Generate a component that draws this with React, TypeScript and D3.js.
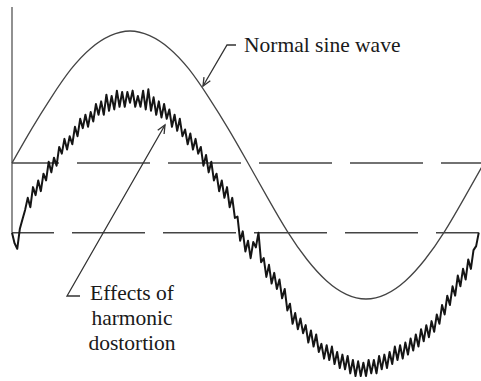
import React from "react";
import * as d3 from "d3";

// Normal sine wave, read every 15 degrees (value units: 1 = peak)
const sineAngles = [0, 15, 30, 45, 60, 75, 90, 105, 120, 135, 150, 165, 180, 195, 210, 225, 240, 255, 270, 285, 300, 315, 330, 345, 360];
const sineValues = [0, 0.255, 0.49, 0.7, 0.855, 0.95, 0.985, 0.95, 0.855, 0.7, 0.49, 0.255, 0, -0.26, -0.51, -0.72, -0.88, -0.98, -1.015, -0.98, -0.88, -0.72, -0.51, -0.26, 0];

// Distorted wave, read every 2 degrees from 0 to 356
const noisyStep = 2;
const noisyValues = [
  -0.52, -0.6, -0.64, -0.49, -0.42, -0.35,
  -0.26, -0.33, -0.18, -0.24, -0.13, -0.21, -0.08, -0.13, 0.01, -0.07,
  0.04, -0.02, 0.12, 0.07, 0.18, 0.1, 0.2, 0.14, 0.27, 0.2,
  0.33, 0.26, 0.36, 0.27, 0.38, 0.31, 0.44, 0.36, 0.46, 0.36,
  0.51, 0.39, 0.5, 0.4, 0.54, 0.42, 0.53, 0.42, 0.53, 0.45,
  0.54, 0.42, 0.5, 0.42, 0.54, 0.4, 0.55, 0.39, 0.49, 0.36,
  0.46, 0.34, 0.44, 0.33, 0.4, 0.27, 0.36, 0.24, 0.33, 0.2,
  0.25, 0.14, 0.22, 0.1, 0.18, 0.07, 0.12, -0.02, 0.06, -0.07,
  0.01, -0.13, -0.08, -0.21, -0.13, -0.26, -0.18, -0.33, -0.26, -0.41,
  -0.4, -0.58, -0.51, -0.66, -0.58, -0.71, -0.59, -0.63, -0.52, -0.74,
  -0.71, -0.85, -0.76, -0.9, -0.82, -0.94, -0.87, -1.01, -0.94, -1.1,
  -1.05, -1.2, -1.12, -1.24, -1.16, -1.27, -1.21, -1.34, -1.25, -1.37,
  -1.28, -1.41, -1.35, -1.46, -1.36, -1.47, -1.37, -1.5, -1.41, -1.53,
  -1.43, -1.54, -1.44, -1.57, -1.47, -1.59, -1.48, -1.59, -1.49, -1.59,
  -1.47, -1.57, -1.47, -1.57, -1.44, -1.54, -1.43, -1.53, -1.41, -1.5,
  -1.37, -1.47, -1.36, -1.46, -1.34, -1.43, -1.31, -1.4, -1.28, -1.37,
  -1.24, -1.33, -1.21, -1.3, -1.18, -1.26, -1.13, -1.2, -1.06, -1.13,
  -0.99, -1.06, -0.92, -0.99, -0.84, -0.92, -0.79, -0.87, -0.72, -0.79,
  -0.65, -0.62, -0.52,
];
const noisyAngles = noisyValues.map((_, i) => i * noisyStep);

// Horizontal dashed reference levels
const refLevels = [0, -0.52];
const refDashOffsets = [26, 31];
const refEnds = [360, 356];

const labelNormal = "Normal sine wave";
const labelEffects = ["Effects of", "harmonic", "dostortion"];

const W = 481;
const H = 381;

function arrowHead(tip: [number, number], from: [number, number], len = 9, spread = 0.42) {
  const a = Math.atan2(tip[1] - from[1], tip[0] - from[0]);
  const p1 = [tip[0] - len * Math.cos(a - spread), tip[1] - len * Math.sin(a - spread)];
  const p2 = [tip[0] - len * Math.cos(a + spread), tip[1] - len * Math.sin(a + spread)];
  return `M${p1[0]},${p1[1]}L${tip[0]},${tip[1]}L${p2[0]},${p2[1]}`;
}

export default function App() {
  const x = d3.scaleLinear().domain([0, 360]).range([12, 484]);
  const y = d3.scaleLinear().domain([0, -1]).range([163, 297]);

  const sineLine = d3
    .line<number>()
    .x((_, i) => x(sineAngles[i]))
    .y((d) => y(d))
    .curve(d3.curveNatural);

  const noisyLine = d3
    .line<number>()
    .x((_, i) => x(noisyAngles[i]))
    .y((d) => y(d))
    .curve(d3.curveLinear);

  const font = "Liberation Serif, Times New Roman, serif";

  // annotation leaders (pixel layout)
  const nTip: [number, number] = [203, 86];
  const nElbow: [number, number] = [227, 45];
  const nEnd: [number, number] = [236, 45];
  const eTip: [number, number] = [165, 125];
  const eElbow: [number, number] = [67, 296];
  const eEnd: [number, number] = [80, 296];

  return (
    <svg
      width={W}
      height={H}
      style={{ position: "absolute", left: 0, top: 0, background: "#fff" }}
    >
      <rect width={W} height={H} fill="#fff" />
      {/* vertical axis */}
      <line x1={x(0)} x2={x(0)} y1={7} y2={y(-0.52)} stroke="#555" strokeWidth={1.3} />
      {/* dashed reference lines */}
      {refLevels.map((v, i) => (
        <line
          key={i}
          x1={x(0)}
          x2={x(refEnds[i])}
          y1={y(v)}
          y2={y(v)}
          stroke="#444"
          strokeWidth={1.6}
          strokeDasharray="73 18"
          strokeDashoffset={refDashOffsets[i]}
        />
      ))}
      {/* normal sine */}
      <path d={sineLine(sineValues) || ""} fill="none" stroke="#444" strokeWidth={1.3} />
      {/* distorted wave */}
      <path
        d={noisyLine(noisyValues) || ""}
        fill="none"
        stroke="#151515"
        strokeWidth={2}
        strokeLinejoin="round"
      />
      {/* annotations */}
      <g stroke="#333" strokeWidth={1.3} fill="none">
        <path d={`M${nEnd[0]},${nEnd[1]}L${nElbow[0]},${nElbow[1]}L${nTip[0]},${nTip[1]}`} />
        <path d={arrowHead(nTip, nElbow)} />
        <path d={`M${eEnd[0]},${eEnd[1]}L${eElbow[0]},${eElbow[1]}L${eTip[0]},${eTip[1]}`} />
        <path d={arrowHead(eTip, eElbow)} />
      </g>
      <text x={244} y={52} fontFamily={font} fontSize={21.5} fill="#1a1a1a">
        {labelNormal}
      </text>
      {labelEffects.map((t, i) => (
        <text
          key={t}
          x={132}
          y={300 + i * 25}
          textAnchor="middle"
          fontFamily={font}
          fontSize={21.5}
          fill="#1a1a1a"
        >
          {t}
        </text>
      ))}
    </svg>
  );
}
